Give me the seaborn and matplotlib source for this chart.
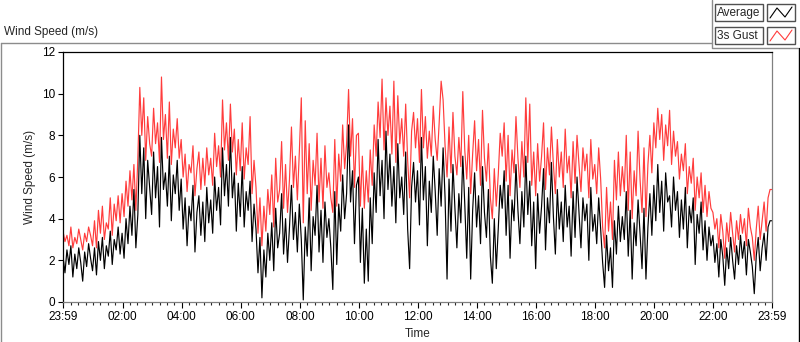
import numpy as np
import pandas as pd
import matplotlib
matplotlib.use("Agg")
import matplotlib.pyplot as plt
import matplotlib.dates as mdates
from matplotlib.patches import Rectangle
import seaborn as sns

# --- Data (one value every 4 minutes, one row per hour) ---
START_TIME = "2023-01-01 23:59"
STEP = "4min"

avg_speed = [
    2.2, 1.4, 2.5, 1.8, 2.7, 1.2, 2.3, 1.6, 2.6, 1.9, 1.0, 2.4, 1.7, 2.8, 2.1,
    1.5, 2.6, 1.3, 2.9, 2.0, 3.1, 1.6, 2.7, 2.2, 3.4, 1.8, 3.0, 2.5, 3.6, 2.3,
    3.3, 2.1, 4.0, 2.8, 4.6, 3.2, 5.4, 2.6, 4.2, 8.0, 5.2, 7.4, 4.0, 6.8, 5.5,
    4.2, 7.2, 5.0, 6.5, 3.6, 7.9, 5.4, 6.2, 4.6, 7.0, 3.9, 6.1, 5.2, 6.8, 4.4,
    5.9, 3.5, 5.0, 2.7, 4.6, 3.9, 5.6, 2.4, 4.3, 5.1, 3.2, 4.8, 2.9, 5.5, 3.8,
    4.9, 3.3, 6.0, 4.4, 5.5, 3.7, 7.4, 5.1, 6.6, 4.6, 7.9, 5.0, 6.2, 3.4, 5.7,
    4.1, 6.5, 3.6, 5.3, 4.4, 5.8, 2.9, 4.7, 3.5, 1.4, 3.1, 0.2, 2.5, 1.2, 3.3,
    2.0, 3.8, 1.5, 4.5, 2.6, 3.3, 5.2, 2.3, 4.0, 1.9, 3.6, 5.6, 3.0, 4.3, 2.4,
    4.7, 3.0, 0.1, 3.6, 2.2, 5.0, 1.5, 4.1, 3.2, 5.6, 2.4, 4.4, 1.9, 4.8, 3.1,
    4.0, 2.6, 0.6, 5.3, 1.8, 4.7, 3.4, 6.1, 4.0, 5.2, 8.5, 4.8, 6.3, 2.8, 5.6,
    6.0, 1.9, 4.5, 0.9, 3.5, 1.0, 5.0, 2.8, 6.2, 4.3, 7.8, 5.1, 6.8, 4.0, 8.2,
    5.4, 7.1, 4.6, 6.5, 3.8, 7.6, 5.0, 6.0, 4.2, 7.2, 3.5, 1.6, 5.5, 6.7, 4.8,
    6.3, 3.7, 7.9, 4.9, 6.5, 2.7, 5.8, 4.3, 7.0, 5.3, 3.2, 6.4, 4.6, 7.4, 5.0,
    1.1, 5.9, 3.4, 6.6, 4.5, 2.6, 5.2, 3.8, 7.0, 4.7, 2.1, 5.5, 1.1, 4.4, 6.2,
    3.6, 5.1, 2.8, 6.5, 4.3, 3.1, 5.4, 2.2, 0.9, 4.0, 1.6, 3.5, 5.6, 4.5, 6.3,
    3.2, 5.6, 2.1, 4.9, 3.9, 6.6, 4.4, 2.8, 5.3, 3.6, 7.0, 4.2, 5.8, 2.7, 4.8,
    1.6, 5.2, 3.3, 4.6, 6.4, 2.5, 5.0, 3.8, 6.7, 4.1, 2.3, 5.4, 3.5, 4.8, 2.9,
    5.6, 3.6, 4.6, 2.2, 5.3, 3.1, 6.0, 4.3, 2.6, 5.0, 3.9, 4.7, 2.0, 5.5, 3.4,
    4.2, 2.8, 5.0, 3.5, 1.9, 0.7, 3.2, 1.5, 2.6, 0.7, 3.9, 2.3, 4.6, 2.9, 4.1,
    3.0, 5.3, 2.2, 4.4, 1.1, 3.8, 2.7, 4.9, 3.3, 1.6, 4.5, 1.1, 3.6, 5.2, 3.2,
    5.6, 3.9, 6.6, 4.3, 5.8, 3.4, 6.2, 4.8, 5.1, 3.6, 6.0, 4.4, 5.3, 3.1, 4.9,
    3.5, 5.5, 2.6, 4.6, 3.8, 5.0, 1.8, 4.2, 3.3, 4.8, 2.5, 3.9, 2.0, 3.6, 2.7,
    3.2, 1.9, 2.8, 1.2, 3.0, 2.2, 0.8, 2.6, 1.6, 3.1, 2.0, 1.1, 2.7, 1.8, 3.2,
    2.1, 2.9, 1.3, 3.0, 2.4, 1.7, 0.4, 2.2, 3.1, 1.5, 2.6, 3.3, 2.0, 3.6, 3.9,
    3.9,
]

gust_speed = [
    3.4, 2.9, 3.2, 2.7, 3.6, 2.6, 3.1, 2.8, 3.5, 3.0, 2.5, 3.3, 2.9, 3.6, 3.2,
    2.7, 3.9, 2.6, 4.4, 3.3, 4.6, 3.0, 3.8, 3.5, 5.0, 3.2, 4.7, 3.9, 5.1, 3.8,
    5.2, 4.1, 5.8, 4.6, 6.3, 4.9, 6.6, 4.4, 6.9, 10.3, 8.0, 9.8, 6.8, 8.9, 7.6,
    7.0, 9.3, 7.6, 8.6, 6.7, 10.8, 7.8, 9.0, 6.9, 9.6, 6.6, 8.3, 7.4, 8.8, 6.9,
    7.8, 6.0, 7.1, 5.3, 6.6, 6.2, 7.5, 5.1, 6.4, 7.2, 5.4, 6.9, 5.6, 7.4, 6.1,
    6.9, 5.6, 8.1, 6.5, 7.5, 6.0, 9.7, 7.3, 8.6, 6.8, 9.5, 7.2, 8.3, 6.1, 7.8,
    6.3, 8.6, 5.9, 7.4, 6.6, 8.9, 5.2, 6.8, 5.5, 3.3, 5.0, 2.7, 4.6, 3.4, 5.4,
    4.2, 6.1, 3.6, 6.9, 4.8, 5.4, 7.7, 4.5, 6.6, 4.3, 5.9, 8.4, 5.5, 7.0, 4.9,
    7.2, 9.8, 3.8, 8.7, 5.2, 7.6, 4.4, 6.8, 5.6, 8.1, 4.8, 6.9, 4.5, 7.5, 5.5,
    6.2, 5.0, 4.3, 7.8, 4.6, 7.1, 5.8, 8.5, 6.4, 7.6, 10.2, 7.0, 8.8, 5.5, 8.0,
    8.1, 4.6, 7.0, 4.5, 6.3, 4.8, 7.3, 5.6, 8.5, 7.0, 9.6, 7.9, 10.7, 7.3, 9.8,
    8.0, 9.4, 7.1, 10.6, 6.7, 9.9, 7.6, 8.8, 7.0, 9.5, 6.8, 5.0, 8.2, 9.1, 7.4,
    8.8, 6.7, 10.2, 7.4, 8.9, 6.9, 8.2, 7.0, 9.4, 7.8, 6.8, 8.6, 10.6, 9.7, 7.5,
    6.0, 8.4, 6.2, 9.1, 7.0, 6.1, 7.9, 6.5, 10.1, 7.3, 5.9, 8.0, 5.2, 7.1, 8.7,
    6.3, 7.8, 5.6, 9.2, 6.9, 5.8, 7.6, 5.0, 4.0, 6.4, 4.6, 6.1, 8.1, 7.0, 8.6,
    5.8, 8.0, 5.1, 7.3, 6.2, 8.9, 6.9, 5.5, 7.7, 6.0, 9.8, 6.7, 9.5, 5.6, 7.2,
    5.1, 7.6, 5.8, 7.0, 8.6, 5.4, 7.4, 6.1, 8.4, 6.6, 5.2, 7.8, 6.0, 7.2, 5.5,
    8.3, 6.2, 7.0, 5.0, 7.7, 5.7, 8.0, 6.6, 5.3, 7.4, 6.3, 7.1, 5.0, 7.8, 5.9,
    6.6, 5.2, 7.4, 5.9, 3.6, 2.6, 5.5, 3.4, 4.8, 3.0, 6.8, 4.9, 7.2, 5.1, 6.5,
    5.3, 8.0, 4.4, 7.2, 4.0, 6.3, 5.1, 8.2, 5.9, 4.3, 7.4, 4.1, 6.6, 8.0, 6.2,
    8.6, 7.4, 9.3, 7.8, 9.0, 6.8, 8.5, 7.5, 9.2, 6.6, 8.2, 7.0, 7.7, 5.9, 7.1,
    6.3, 7.6, 5.2, 6.5, 5.7, 6.9, 4.4, 6.0, 5.0, 6.2, 4.3, 5.6, 4.1, 5.3, 4.5,
    4.3, 3.5, 4.0, 2.6, 4.2, 3.4, 2.1, 3.8, 2.9, 4.3, 3.3, 2.4, 3.9, 3.0, 4.2,
    3.3, 4.0, 2.7, 4.5, 3.6, 3.1, 2.0, 3.5, 4.6, 3.0, 3.9, 4.8, 3.4, 5.0, 5.4,
    5.4,
]

major_hours = ["02:00", "04:00", "06:00", "08:00", "10:00", "12:00",
               "14:00", "16:00", "18:00", "20:00", "22:00"]
y_ticks = [0, 2, 4, 6, 8, 10, 12]

# --- Styling ---
GUST_RED = "#ff3c3c"
FS = 8.5
sns.set_style("ticks")
plt.rcParams["font.family"] = ["Liberation Sans", "DejaVu Sans"]
plt.rcParams["font.size"] = FS

times = pd.date_range(START_TIME, periods=len(avg_speed), freq=STEP)
df = pd.DataFrame({"Time": times, "Average": avg_speed, "3s Gust": gust_speed})

fig = plt.figure(figsize=(8.0, 3.42), dpi=100)

# frame / legend decorations drawn in pixel space
deco = fig.add_axes([0, 0, 1, 1], zorder=0)
deco.set_xlim(0, 800)
deco.set_ylim(342, 0)
deco.axis("off")
deco.plot([0.5, 711.5], [42.5, 42.5], color="#8c8c8c", lw=1)
deco.plot([711.5, 711.5, 798], [0, 47.5, 47.5], color="#8c8c8c", lw=1)
deco.plot([0.5, 0.5], [42.5, 342], color="#8c8c8c", lw=1)
deco.plot([799, 799], [48, 342], color="black", lw=1)
deco.text(4, 32, "Wind Speed (m/s)", fontsize=FS, va="center", ha="left")

for row, (name, col) in enumerate([("Average", "black"), ("3s Gust", GUST_RED)]):
    top = 4 + row * 23
    deco.add_patch(Rectangle((715, top), 48, 17, fill=False, ec="#505050", lw=1))
    deco.add_patch(Rectangle((767, top), 28, 17, fill=False, ec="#505050", lw=1))
    deco.text(717, top + 9, name, fontsize=FS, va="center", ha="left")
    deco.plot([770, 777, 785, 792], [top + 14, top + 4, top + 13, top + 3],
              color=col, lw=0.8)

# main chart
ax = fig.add_axes([63 / 800, 1 - 302 / 342, 709 / 800, 250 / 342], zorder=2)
ax.set_facecolor("white")
sns.lineplot(data=df, x="Time", y="3s Gust", ax=ax, color=GUST_RED, lw=0.85)
sns.lineplot(data=df, x="Time", y="Average", ax=ax, color="black", lw=0.85)

ax.set_xlim(times[0], times[-1])
ax.set_ylim(0, 12)
ax.set_yticks(y_ticks)

day = times[0].normalize() + pd.Timedelta(days=1)
majors = [times[0]] + [pd.Timestamp(f"{day.date()} {h}") for h in major_hours] + [times[-1]]
ax.xaxis.set_major_locator(matplotlib.ticker.FixedLocator(mdates.date2num(majors)))
ax.xaxis.set_major_formatter(mdates.DateFormatter("%H:%M"))
ax.xaxis.set_minor_locator(mdates.MinuteLocator(byminute=[0, 15, 30, 45]))

ax.tick_params(axis="both", which="major", direction="out", length=3.5,
               width=0.8, colors="black", labelsize=FS, pad=2)
ax.tick_params(axis="x", which="major", length=4.5)
ax.tick_params(axis="x", which="minor", direction="out", length=2.2, width=0.8)

for side in ["top", "left"]:
    ax.spines[side].set_color("black")
for side in ["right", "bottom"]:
    ax.spines[side].set_color("#808080")
for sp in ax.spines.values():
    sp.set_linewidth(0.9)

ax.set_xlabel("Time", fontsize=FS)
ax.set_ylabel("Wind Speed (m/s)", fontsize=FS)
ax.xaxis.set_label_coords(0.5, -0.105)
ax.yaxis.set_label_coords(-0.038, 0.5)

fig.savefig("out.png", dpi=100)
